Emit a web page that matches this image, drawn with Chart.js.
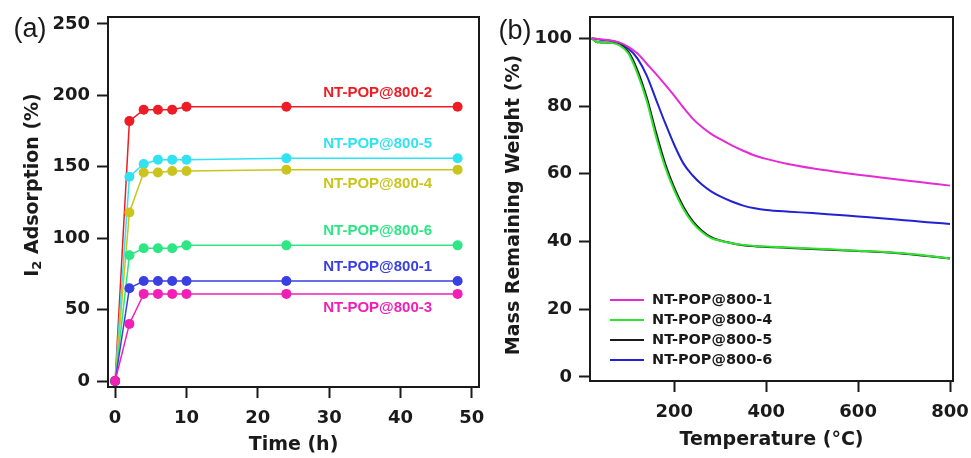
<!DOCTYPE html>
<html>
<head>
<meta charset="utf-8">
<script src="https://cdn.jsdelivr.net/npm/chart.js@4"></script>
<style>
  body { margin: 0; background: #fff; }
  canvas { position: absolute; top: 0; }
  #uptake { left: 0; }
  #tga { left: 485px; }
</style>
</head>
<body>
<canvas id="uptake" width="485" height="458"></canvas>
<canvas id="tga" width="486" height="458"></canvas>
<script>
// (a) iodine uptake against time
const hours = [0, 2, 4, 6, 8, 10, 24, 48];
const pop2 = [0, 182, 190, 190, 190, 192, 192, 192];
const pop5 = [0, 143, 152, 155, 155, 155, 156, 156];
const pop4 = [0, 118, 146, 146, 147, 147, 148, 148];
const pop6 = [0, 88, 93, 93, 93, 95, 95, 95];
const pop1 = [0, 65, 70, 70, 70, 70, 70, 70];
const pop3 = [0, 40, 61, 61, 61, 61, 61, 61];
const timeTicks = [0, 10, 20, 30, 40, 50];
const uptakeTicks = [0, 50, 100, 150, 200, 250];

// (b) TGA curves
const temps = [20, 30, 40, 60, 80, 100, 120, 140, 160, 180, 200, 220, 240, 260, 280, 300, 325, 350, 375, 400, 450, 500, 550, 600, 650, 700, 750, 800];
const tga1 = [100, 99.9, 99.7, 99.4, 98.8, 97.5, 95.5, 92.5, 89.5, 86.3, 83, 79.5, 76.3, 73.8, 71.8, 70.2, 68.4, 66.8, 65.4, 64.4, 62.8, 61.6, 60.6, 59.7, 58.9, 58.1, 57.3, 56.5];
const tga4 = [100, 99, 98.8, 98.7, 98, 95.5, 89.5, 81.5, 71, 62, 55, 49.5, 45.5, 42.8, 41, 40.2, 39.5, 39, 38.7, 38.5, 38.2, 37.9, 37.6, 37.3, 37, 36.5, 35.8, 35];
const tga5 = [100, 99, 98.8, 98.7, 98.2, 96, 90.5, 82.5, 72.3, 63, 55.8, 50.2, 46, 43.2, 41.3, 40.3, 39.5, 38.9, 38.6, 38.4, 38.1, 37.8, 37.5, 37.2, 36.9, 36.4, 35.7, 35];
const tga6 = [100, 99.8, 99.6, 99.3, 98.6, 97, 94, 89, 82, 75, 68.5, 63, 59.5, 56.8, 54.8, 53.3, 51.8, 50.6, 49.8, 49.3, 48.8, 48.4, 47.9, 47.4, 46.9, 46.3, 45.7, 45.2];
const tempTicks = [200, 400, 600, 800];
const massTicks = [0, 20, 40, 60, 80, 100];

const INK = '#1a1a1a';
Chart.defaults.font.family = 'DejaVu Sans';
Chart.defaults.color = INK;

function boxAxis(min, max, values, fit, pad) {
  return {
    type: 'linear', min: min, max: max,
    afterBuildTicks: (s) => { s.ticks = values.map((v) => ({value: v})); },
    afterFit: fit,
    grid: {drawOnChartArea: false, tickLength: 11, tickWidth: 2, tickColor: INK},
    border: {color: INK, width: 2},
    ticks: {color: INK, padding: pad, autoSkip: false, maxRotation: 0,
            font: {size: 18, weight: 'bold'}}
  };
}
const xFit = (h) => (s) => { s.height = h; s.paddingLeft = 0; s.paddingRight = 0; };
const yFit = (w) => (s) => { s.width = w; s.paddingTop = 0; s.paddingBottom = 0; };

// full box round the plot area
const boxFrame = {
  id: 'boxFrame',
  afterDraw(chart) {
    const {ctx, chartArea: a} = chart;
    ctx.save();
    ctx.strokeStyle = INK;
    ctx.lineWidth = 2;
    ctx.strokeRect(a.left, a.top, a.right - a.left, a.bottom - a.top);
    ctx.restore();
  }
};

// panel tag and rotated y title (parts: [text, subscript?])
function panelText(tag, tx, ty, parts, cx, cy) {
  return {
    id: 'panelText',
    afterDraw(chart) {
      const ctx = chart.ctx;
      ctx.save();
      ctx.fillStyle = INK;
      ctx.textBaseline = 'middle';
      ctx.textAlign = 'center';
      ctx.font = '27px "Liberation Sans"';
      ctx.fillText(tag, tx, ty);
      ctx.translate(cx, cy);
      ctx.rotate(-Math.PI / 2);
      ctx.textAlign = 'left';
      const fonts = [['bold 19px "DejaVu Sans"', 0], ['bold 13px "DejaVu Sans"', 5]];
      const widths = parts.map(([t, sub]) => {
        ctx.font = fonts[sub ? 1 : 0][0];
        return ctx.measureText(t).width;
      });
      let x = -widths.reduce((a, b) => a + b, 0) / 2;
      parts.forEach(([t, sub], i) => {
        const f = fonts[sub ? 1 : 0];
        ctx.font = f[0];
        ctx.fillText(t, x, f[1]);
        x += widths[i];
      });
      ctx.restore();
    }
  };
}

// name of each uptake series written above/below its plateau
const seriesLabels = {
  id: 'seriesLabels',
  afterDatasetsDraw(chart) {
    const {ctx, scales: {x, y}} = chart;
    ctx.save();
    ctx.font = 'bold 15px "Liberation Sans"';
    ctx.textAlign = 'center';
    ctx.textBaseline = 'middle';
    chart.data.datasets.forEach((ds) => {
      const last = ds.data[ds.data.length - 1];
      const py = y.getPixelForValue(last.y) + (ds.labelBelow ? 14 : -14);
      ctx.fillStyle = ds.borderColor;
      ctx.fillText(ds.label, x.getPixelForValue(36.8), py);
    });
    ctx.restore();
  }
};

// legend in the lower left of the TGA plot
function lineLegend(x0, y0, step) {
  return {
    id: 'lineLegend',
    afterDraw(chart) {
      const ctx = chart.ctx;
      ctx.save();
      ctx.font = 'bold 14.5px "DejaVu Sans"';
      ctx.textBaseline = 'middle';
      ctx.lineWidth = 2;
      chart.data.datasets.forEach((ds, i) => {
        const y = y0 + i * step;
        ctx.strokeStyle = ds.borderColor;
        ctx.beginPath();
        ctx.moveTo(x0, y);
        ctx.lineTo(x0 + 34, y);
        ctx.stroke();
        ctx.fillStyle = INK;
        ctx.fillText(ds.label, x0 + 42, y);
      });
      ctx.restore();
    }
  };
}

const uptakeSeries = [
  {label: 'NT-POP@800-3', values: pop3, color: '#f21fb6', below: true},
  {label: 'NT-POP@800-1', values: pop1, color: '#3a3fe2', below: false},
  {label: 'NT-POP@800-6', values: pop6, color: '#2de684', below: false},
  {label: 'NT-POP@800-4', values: pop4, color: '#cbc41c', below: true},
  {label: 'NT-POP@800-5', values: pop5, color: '#30e2f2', below: false},
  {label: 'NT-POP@800-2', values: pop2, color: '#ee1c24', below: false}
];

new Chart(document.getElementById('uptake'), {
  type: 'line',
  data: {
    datasets: uptakeSeries.map((s) => ({
      label: s.label,
      labelBelow: s.below,
      data: hours.map((h, i) => ({x: h, y: s.values[i]})),
      borderColor: s.color,
      backgroundColor: s.color,
      pointBackgroundColor: s.color,
      borderWidth: 1.5,
      pointRadius: 5,
      pointBorderWidth: 0,
      tension: 0
    }))
  },
  options: {
    responsive: false,
    animation: false,
    layout: {padding: {top: 17, right: 6, left: 0, bottom: 0}},
    plugins: {legend: {display: false}, tooltip: {enabled: false}},
    scales: {
      x: Object.assign(boxAxis(-1, 51, timeTicks, xFit(71), 10), {
        title: {display: true, text: 'Time (h)', color: INK,
                font: {size: 19, weight: 'bold', lineHeight: 1}, padding: {top: 0, bottom: 3}}
      }),
      y: boxAxis(-4.2, 254.9, uptakeTicks, yFit(108), 7)
    }
  },
  plugins: [boxFrame, seriesLabels,
    panelText('(a)', 30, 30, [['I', false], ['2', true], [' Adsorption (%)', false]], 33, 185)]
});

const tgaSeries = [
  {label: 'NT-POP@800-1', values: tga1, color: '#e52bd3'},
  {label: 'NT-POP@800-4', values: tga4, color: '#2ee52e'},
  {label: 'NT-POP@800-5', values: tga5, color: '#1a1a1a'},
  {label: 'NT-POP@800-6', values: tga6, color: '#2222d2'}
];

new Chart(document.getElementById('tga'), {
  type: 'line',
  data: {
    datasets: tgaSeries.map((s) => ({
      label: s.label,
      data: temps.map((t, i) => ({x: t, y: s.values[i]})),
      borderColor: s.color,
      backgroundColor: s.color,
      borderWidth: 2,
      pointRadius: 0,
      cubicInterpolationMode: 'monotone'
    }))
  },
  options: {
    responsive: false,
    animation: false,
    layout: {padding: {top: 17, right: 18, left: 0, bottom: 0}},
    plugins: {legend: {display: false}, tooltip: {enabled: false}},
    scales: {
      x: Object.assign(boxAxis(16.5, 806.5, tempTicks, xFit(77), 10), {
        title: {display: true, text: 'Temperature (°C)', color: INK,
                font: {size: 19, weight: 'bold', lineHeight: 1}, padding: {top: 0, bottom: 8}}
      }),
      y: boxAxis(-1.2, 106.3, massTicks, yFit(105), 7)
    }
  },
  plugins: [boxFrame, lineLegend(125, 300, 20),
    panelText('(b)', 30, 32, [['Mass Remaining Weight (%)', false]], 29, 205)]
});
</script>
</body>
</html>
